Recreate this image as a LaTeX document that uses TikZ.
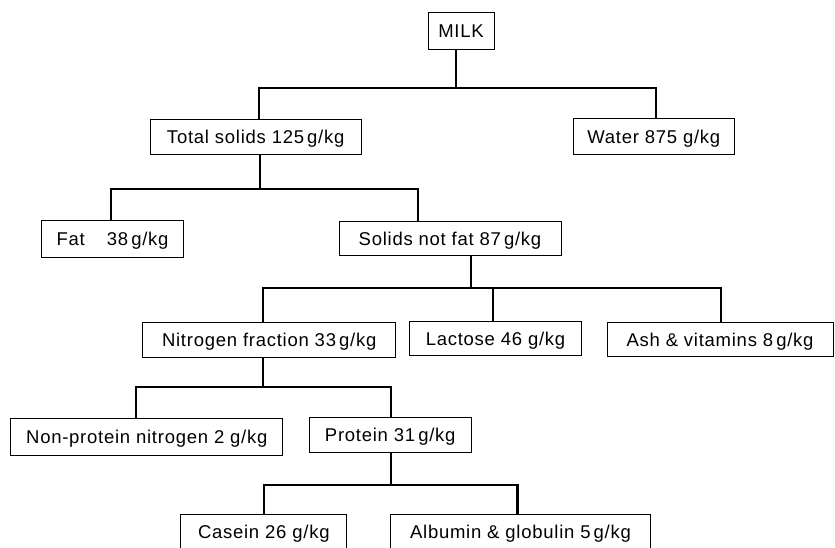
\documentclass[tikz,border=0pt]{standalone}
\usepackage{fontspec}
\setmainfont{Liberation Sans}[LetterSpace=4]
\begin{document}
\begin{tikzpicture}[x=1pt,y=-1pt,
  box/.style={draw, line width=1pt, inner sep=0pt, text height=13pt, text depth=0pt,
    font=\fontsize{18.5}{22}\selectfont},
  conn/.style={line width=2.2pt}]
\useasboundingbox (0,0) rectangle (835,547);
\clip (0,0) rectangle (835,547);
% boxes
\node[box, minimum width=66pt,  minimum height=37pt] (milk)  at (461,31)   {MILK};
\node[box, minimum width=211pt, minimum height=35pt] (ts)    at (255.7,136.8) {Total solids 125\,g/kg};
\node[box, minimum width=161pt, minimum height=35.6pt] (water) at (653.8,136.5) {Water 875 g/kg};
\node[box, minimum width=141.6pt, minimum height=36.7pt] (fat) at (112.5,239.3) {Fat\hspace{1.2em}38\,g/kg};
\node[box, minimum width=222pt, minimum height=34pt] (snf)   at (450,238.7)   {Solids not fat 87\,g/kg};
\node[box, minimum width=253pt, minimum height=35pt] (nf)    at (269.2,340.2) {Nitrogen fraction 33\,g/kg};
\node[box, minimum width=172.4pt, minimum height=34.3pt] (lac) at (495.5,338.8) {Lactose 46 g/kg};
\node[box, minimum width=226pt, minimum height=34pt] (ash)   at (720,339.7)   {Ash \& vitamins 8\,g/kg};
\node[box, minimum width=271.7pt, minimum height=37.4pt] (npn) at (146.8,437) {Non-protein nitrogen 2 g/kg};
\node[box, minimum width=161.7pt, minimum height=34.6pt] (prot) at (390.2,435) {Protein 31\,g/kg};
\node[box, minimum width=165.7pt, minimum height=36pt] (cas)   at (263.8,532) {Casein 26 g/kg};
\node[box, minimum width=259.6pt, minimum height=36pt] (alb)   at (520.5,532) {Albumin \& globulin 5\,g/kg};
% connectors
\draw[conn] ([xshift=-5pt]milk.south) -- ++(0,38) coordinate (b1);
\draw[conn] ([xshift=3pt]ts.north) |- (b1) -| ([xshift=2pt]water.north);
\draw[conn] ([xshift=4.6pt]ts.south) -- ++(0,34) coordinate (b2);
\draw[conn] ([xshift=-1.8pt]fat.north) |- (b2) -| ([xshift=-32pt]snf.north);
\draw[conn] ([xshift=21pt]snf.south) -- ++(0,31.6) coordinate (b3);
\draw[conn] ([xshift=-6pt]nf.north) |- (b3) -| ([xshift=1pt]ash.north);
\draw[conn] ([xshift=-2.8pt]lac.north) |- (b3);
\draw[conn] ([xshift=-6pt]nf.south) -- ++(0,29) coordinate (b4);
\draw[conn] ([xshift=-11pt]npn.north) |- (b4) -| ([xshift=0.5pt]prot.north);
\draw[conn] ([xshift=0.5pt]prot.south) -- ++(0,32) coordinate (b5);
\draw[conn] (cas.north) |- (b5) -| ([xshift=-3pt]alb.north);
\end{tikzpicture}
\end{document}
